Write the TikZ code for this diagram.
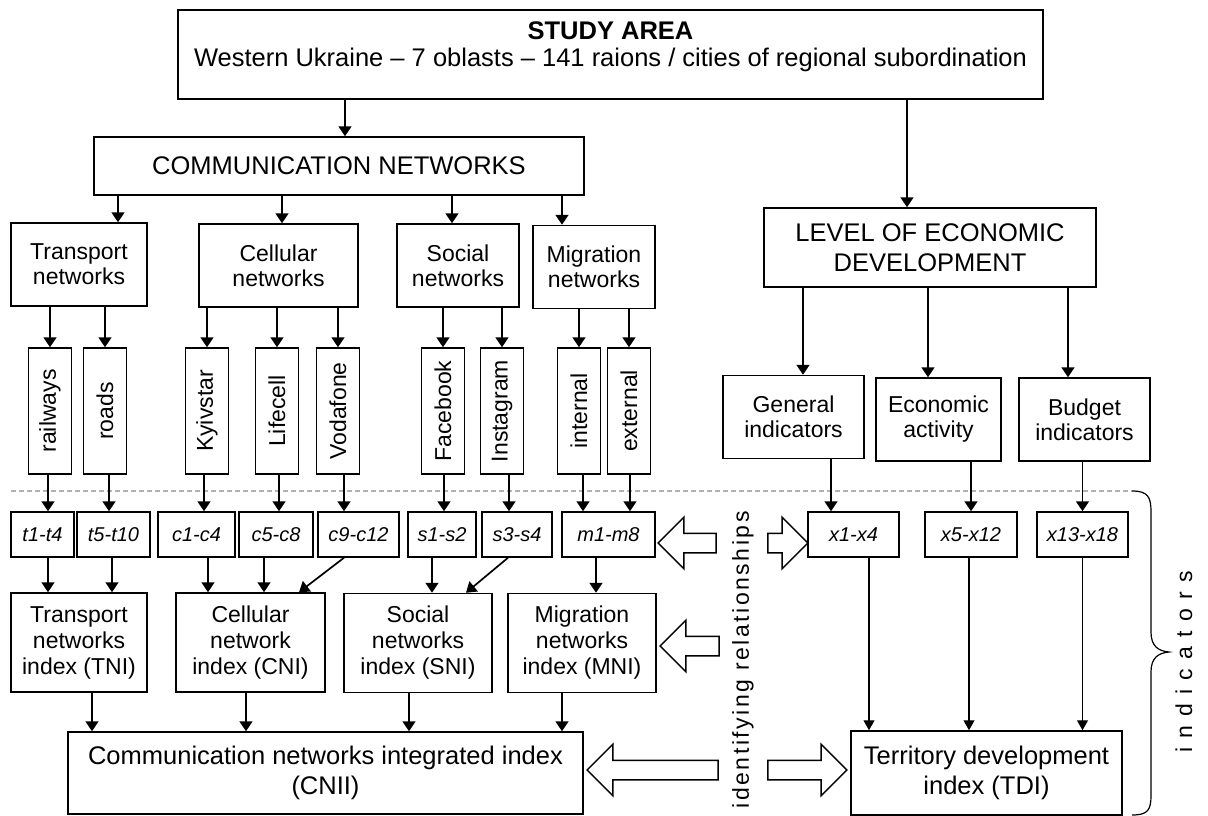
\documentclass[tikz,border=0pt]{standalone}
\usepackage{fontspec}
\setmainfont{Liberation Sans}
\usetikzlibrary{positioning, arrows.meta, shapes.arrows, calc}

\begin{document}
\begin{tikzpicture}[
    x=1pt, y=-1pt,
    box/.style={
        rectangle, draw, line width=1.5pt, inner sep=0pt,
        align=center, font=\fontsize{23}{25}\selectfont
    },
    titlebox/.style={box, font=\fontsize{25.5}{30}\selectfont},
    vbox/.style={box, minimum width=43, minimum height=126},
    idx/.style={box, minimum height=45, font=\fontsize{20}{24}\selectfont\itshape},
    ibox/.style={box, minimum height=99, font=\fontsize{23}{26}\selectfont},
    arr/.style={-{Triangle[length=10pt, width=13pt]}, line width=1.7pt},
    tarr/.style={-{Triangle[length=10pt, width=11pt]}, line width=1.1pt},
    blk/.style={
        single arrow, draw, line width=1.5pt, inner sep=0pt, inner ysep=9pt,
        single arrow head extend=16pt
    },
]
\useasboundingbox (0,0) rectangle (1208,816);

% Study area
\node[box, minimum width=865, minimum height=89] (study) at (610.5,54.5) {};
\node[font=\fontsize{25.5}{27}\selectfont, align=center] (studytxt) at (610.5,47)
    {\textbf{STUDY AREA}\\Western Ukraine -- 7 oblasts -- 141 raions / cities of regional subordination};

% Main branches
\node[titlebox, minimum width=490, minimum height=58] (comm) at (339,166) {COMMUNICATION NETWORKS};
\node[titlebox, minimum width=332, minimum height=79] (level) at (930,247.5) {LEVEL OF ECONOMIC\\DEVELOPMENT};

% Network groups
\node[box, minimum width=136, minimum height=83] (trans) at (79,264.5)  {Transport\\networks};
\node[box, minimum width=159, minimum height=83] (cell)  at (278.5,265.5) {Cellular\\networks};
\node[box, minimum width=122, minimum height=83] (soc)   at (458,265.5) {Social\\networks};
\node[box, minimum width=122, minimum height=83] (migr)  at (594,267)   {Migration\\networks};

% Economic groups
\node[box, minimum width=141, minimum height=83] (gen)  at (793.5,417)  {General\\indicators};
\node[box, minimum width=125, minimum height=83] (econ) at (938.5,419.5) {Economic\\activity};
\node[box, minimum width=131, minimum height=83] (budg) at (1084.5,419.5) {Budget\\indicators};

% Vertical boxes
\node[vbox] (rail)  at (50,411)  {\rotatebox{90}{railways}};
\node[vbox] (road)  at (105,411) {\rotatebox{90}{roads}};
\node[vbox] (kyiv)  at (207,411) {\rotatebox{90}{Kyivstar}};
\node[vbox] (life)  at (277,411) {\rotatebox{90}{Lifecell}};
\node[vbox] (voda)  at (338,411) {\rotatebox{90}{Vodafone}};
\node[vbox] (fb)    at (443,411) {\rotatebox{90}{Facebook}};
\node[vbox] (insta) at (502,411) {\rotatebox{90}{Instagram}};
\node[vbox] (intl)  at (579,411) {\rotatebox{90}{internal}};
\node[vbox] (extl)  at (629,411) {\rotatebox{90}{external}};

% Indicator boxes
\node[idx, minimum width=63] (t14)   at (42.5,534.5)  {t1-t4};
\node[idx, minimum width=73] (t510)  at (113.5,534.5) {t5-t10};
\node[idx, minimum width=77] (c14)   at (196.5,534.5) {c1-c4};
\node[idx, minimum width=74] (c58)   at (276,534.5)   {c5-c8};
\node[idx, minimum width=81] (c912)  at (358.5,534.5) {c9-c12};
\node[idx, minimum width=68] (s12)   at (442,534.5)   {s1-s2};
\node[idx, minimum width=70] (s34)   at (517,534.5)   {s3-s4};
\node[idx, minimum width=93] (m18)   at (608.5,534.5) {m1-m8};
\node[idx, minimum width=91] (x14)   at (853.5,534.5) {x1-x4};
\node[idx, minimum width=92] (x512)  at (971,534.5)   {x5-x12};
\node[idx, minimum width=91] (x1318) at (1082.5,534.5) {x13-x18};

% Index boxes
\node[ibox, minimum width=136] (tni) at (79,642.5)    {Transport\\networks\\index (TNI)};
\node[ibox, minimum width=149] (cni) at (250.5,642.5) {Cellular\\network\\index (CNI)};
\node[ibox, minimum width=148] (sni) at (418,643)     {Social\\networks\\index (SNI)};
\node[ibox, minimum width=148] (mni) at (582,643)     {Migration\\networks\\index (MNI)};

% Integrated indices
\node[titlebox, minimum width=515, minimum height=82] (cnii) at (325.5,773)
    {Communication networks integrated index\\(CNII)};
\node[titlebox, minimum width=271, minimum height=84] (tdi) at (986.5,773)
    {Territory development\\index (TDI)};

% Relationship arrows
\node[blk, shape border rotate=180, minimum height=58] (rel1) at (692,543) {};
\node[blk, minimum height=40] (rel2) at (783,543) {};
\node[blk, shape border rotate=180, minimum height=59] (rel3) at (694.5,646) {};
\node[blk, shape border rotate=180, minimum height=131] (rel4) at (657.5,770) {};
\node[blk, minimum height=79] (rel5) at (802.5,770) {};

% Side labels
\node[rotate=90, anchor=east, inner sep=0pt,
      font=\fontsize{23}{26}\selectfont\addfontfeature{LetterSpace=11}] (reltxt) at (743,511)
    {identifying relationships};
\node[rotate=90, inner sep=0pt,
      font=\fontsize{23}{26}\selectfont\addfontfeature{LetterSpace=40}] (indtxt) at (1184,662)
    {indicators};

% Separator and brace
\draw[gray!60, line width=1.3pt, dash pattern=on 5pt off 3pt] (11,491) -- (1132,491);
\draw[line width=1.2pt] (1132,491) .. controls (1148,491) and (1151,497) .. (1151,512)
    -- (1151,632) .. controls (1151,646) and (1158,651) .. (1169,652)
    .. controls (1158,653) and (1151,658) .. (1151,672)
    -- (1151,795) .. controls (1151,810) and (1148,815) .. (1132,815);

% Study area arrows
\draw[arr] ([xshift=6]comm.north |- study.south) -- ([xshift=6]comm.north);
\draw[arr] ([xshift=-23]level.north |- study.south) -- ([xshift=-23]level.north);

% Communication networks to groups
\draw[arr] ([xshift=39]trans.north |- comm.south) -- ([xshift=39]trans.north);
\draw[arr] ([xshift=3.5]cell.north |- comm.south) -- ([xshift=3.5]cell.north);
\draw[arr] ([xshift=-6]soc.north |- comm.south) -- ([xshift=-6]soc.north);
\draw[arr] ([xshift=-32]migr.north |- comm.south) -- ([xshift=-32]migr.north);

% Economic development to groups
\draw[arr] ([xshift=9.5]gen.north |- level.south) -- ([xshift=9.5]gen.north);
\draw[arr] ([xshift=-10.5]econ.north |- level.south) -- ([xshift=-10.5]econ.north);
\draw[arr] ([xshift=-16.5]budg.north |- level.south) -- ([xshift=-16.5]budg.north);

% Groups to networks
\draw[arr] (rail.north |- trans.south) -- (rail.north);
\draw[arr] (road.north |- trans.south) -- (road.north);
\draw[arr] (kyiv.north |- cell.south) -- (kyiv.north);
\draw[arr] (life.north |- cell.south) -- (life.north);
\draw[arr] (voda.north |- cell.south) -- (voda.north);
\draw[arr] (fb.north |- soc.south) -- (fb.north);
\draw[arr] (insta.north |- soc.south) -- (insta.north);
\draw[arr] (intl.north |- migr.south) -- (intl.north);
\draw[arr] (extl.north |- migr.south) -- (extl.north);

% Networks to indicators
\draw[arr] ([xshift=-2]rail.south) -- ([xshift=-2]rail.south |- t14.north);
\draw[arr] ([xshift=4]road.south) -- ([xshift=4]road.south |- t510.north);
\draw[arr] ([xshift=-3]kyiv.south) -- ([xshift=-3]kyiv.south |- c14.north);
\draw[arr] ([xshift=2]life.south) -- ([xshift=2]life.south |- c58.north);
\draw[arr] ([xshift=6]voda.south) -- ([xshift=6]voda.south |- c912.north);
\draw[arr] ([xshift=1]fb.south) -- ([xshift=1]fb.south |- s12.north);
\draw[arr] ([xshift=7]insta.south) -- ([xshift=7]insta.south |- s34.north);
\draw[arr] ([xshift=4]intl.south) -- ([xshift=4]intl.south |- m18.north);
\draw[arr] ([xshift=1]extl.south) -- ([xshift=1]extl.south |- m18.north);

% Economic groups to indicators
\draw[arr] ([xshift=-22.5]x14.north |- gen.south) -- ([xshift=-22.5]x14.north);
\draw[arr] (x512.north |- econ.south) -- (x512.north);
\draw[arr] (x1318.north |- budg.south) -- (x1318.north);

% Indicators to indices
\draw[arr] ([xshift=5.5]t14.south) -- ([xshift=5.5]t14.south |- tni.north);
\draw[arr] ([xshift=-1.5]t510.south) -- ([xshift=-1.5]t510.south |- tni.north);
\draw[arr] ([xshift=11.5]c14.south) -- ([xshift=11.5]c14.south |- cni.north);
\draw[arr] ([xshift=-12]c58.south) -- ([xshift=-12]c58.south |- cni.north);
\draw[arr] ([xshift=-14.5]c912.south) -- ([xshift=48.5]cni.north);
\draw[arr] ([xshift=-10]s12.south) -- ([xshift=-10]s12.south |- sni.north);
\draw[arr] ([xshift=-9]s34.south) -- ([xshift=48]sni.north);
\draw[arr] ([xshift=-12.5]m18.south) -- ([xshift=-12.5]m18.south |- mni.north);

% Indices to integrated index
\draw[arr] ([xshift=13]tni.south) -- ([xshift=13]tni.south |- cnii.north);
\draw[arr] ([xshift=-4.5]cni.south) -- ([xshift=-4.5]cni.south |- cnii.north);
\draw[arr] ([xshift=-9]sni.south) -- ([xshift=-9]sni.south |- cnii.north);
\draw[arr] ([xshift=-20]mni.south) -- ([xshift=-20]mni.south |- cnii.north);

% Economic indicators to TDI
\draw[tarr] ([xshift=15.5]x14.south) -- ([xshift=15.5]x14.south |- tdi.north);
\draw[tarr] ([xshift=-2]x512.south) -- ([xshift=-2]x512.south |- tdi.north);
\draw[tarr] (x1318.south) -- (x1318.south |- tdi.north);

\end{tikzpicture}
\end{document}
